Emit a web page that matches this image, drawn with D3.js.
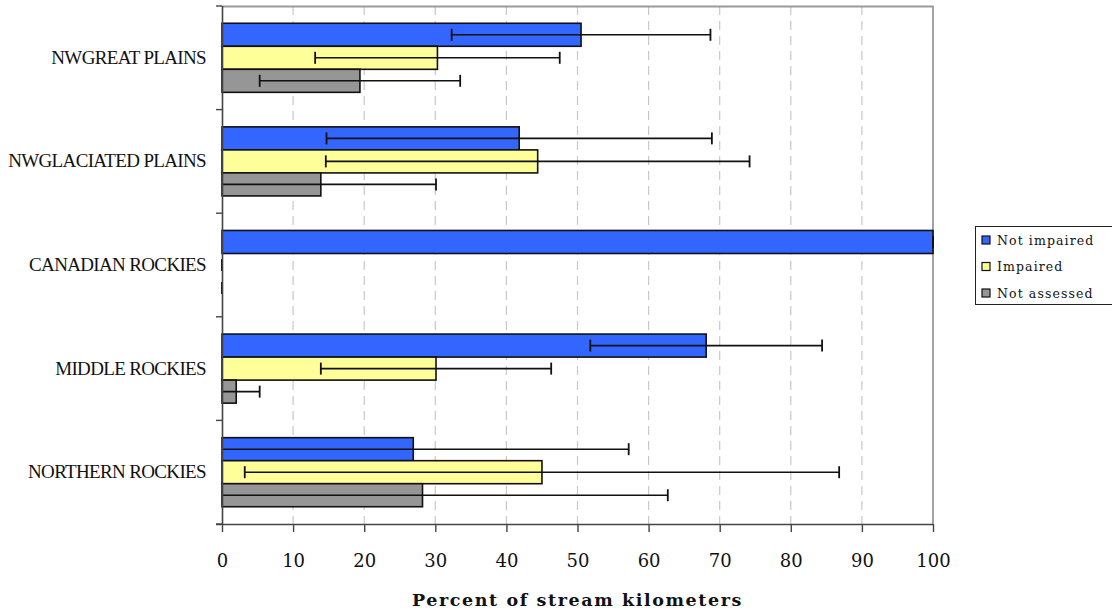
<!DOCTYPE html>
<html>
<head>
<meta charset="utf-8">
<script src="https://cdn.jsdelivr.net/npm/d3@7"></script>
<style>
  html, body { margin: 0; padding: 0; background: #fff; }
  svg { display: block; }
</style>
</head>
<body>
<svg id="chart" width="1112" height="615"></svg>
<script>
// Ecoregions, top to bottom
const regions = ["NWGREAT PLAINS", "NWGLACIATED PLAINS", "CANADIAN ROCKIES", "MIDDLE ROCKIES", "NORTHERN ROCKIES"];
const seriesNames = ["Not impaired", "Impaired", "Not assessed"];

// Percent of stream kilometers per condition class
const notImpaired = [50.5, 41.8, 100, 68.1, 26.9];
const impaired = [30.3, 44.4, 0, 30.1, 45.0];
const notAssessed = [19.4, 13.9, 0, 2.0, 28.2];

// Error bar half-widths (percent)
const notImpairedErr = [18.2, 27.1, 0, 16.3, 30.3];
const impairedErr = [17.2, 29.8, 0, 16.2, 41.8];
const notAssessedErr = [14.1, 16.2, 0, 3.3, 34.5];

const xTicks = [0, 10, 20, 30, 40, 50, 60, 70, 80, 90, 100];
const xTitle = "Percent of stream kilometers";

const seriesColors = ["#3366ff", "#ffff99", "#969696"];
const seriesValues = [notImpaired, impaired, notAssessed];
const seriesErrors = [notImpairedErr, impairedErr, notAssessedErr];

const W = 1112, H = 615;
const margin = { top: 6, right: 179, bottom: 91, left: 222 };
const plotW = W - margin.left - margin.right;
const plotH = H - margin.top - margin.bottom;

const svg = d3.select("#chart");
const g = svg.append("g").attr("transform", `translate(${margin.left},${margin.top})`);

const x = d3.scaleLinear().domain([0, 100]).range([0, plotW]);
const y = d3.scaleBand().domain(regions).range([0, plotH]).padding(0);
const ySub = d3.scaleBand().domain(seriesNames).range([0, y.bandwidth()]).paddingInner(0).paddingOuter(0.75);

// Dashed vertical gridlines
g.append("g")
  .selectAll("line")
  .data(xTicks.filter(t => t > 0 && t < 100))
  .join("line")
  .attr("x1", d => x(d)).attr("x2", d => x(d))
  .attr("y1", 0).attr("y2", plotH)
  .attr("stroke", "#c8c8c8")
  .attr("stroke-width", 1.2)
  .attr("stroke-dasharray", "9,6");

// Plot frame (top and right edges)
g.append("path")
  .attr("d", `M0,0.5H${plotW}V${plotH}`)
  .attr("fill", "none")
  .attr("stroke", "#9a9a9a")
  .attr("stroke-width", 1.8);

// Rows of records: one per region and series
const rows = [];
regions.forEach((r, i) => {
  seriesNames.forEach((s, j) => {
    rows.push({ region: r, series: s, value: seriesValues[j][i], err: seriesErrors[j][i], color: seriesColors[j] });
  });
});

const groups = g.append("g").selectAll("g")
  .data(rows)
  .join("g")
  .attr("transform", d => `translate(0,${y(d.region) + ySub(d.series)})`);

// Bars
groups.filter(d => d.value > 0)
  .append("rect")
  .attr("x", 0)
  .attr("y", 0)
  .attr("width", d => x(d.value))
  .attr("height", ySub.bandwidth())
  .attr("fill", d => d.color)
  .attr("stroke", "#111")
  .attr("stroke-width", 1.6);

// Error bars
const capH = 12;
groups.each(function (d) {
  const sel = d3.select(this);
  const cy = ySub.bandwidth() / 2;
  const lo = d.value - d.err, hi = d.value + d.err;
  sel.append("line")
    .attr("x1", x(Math.max(0, lo))).attr("x2", x(hi))
    .attr("y1", cy).attr("y2", cy)
    .attr("stroke", "#111").attr("stroke-width", 1.6);
  const caps = [hi];
  if (lo >= 0) caps.push(lo);
  caps.forEach(c => {
    sel.append("line")
      .attr("x1", x(c)).attr("x2", x(c))
      .attr("y1", cy - capH / 2).attr("y2", cy + capH / 2)
      .attr("stroke", "#111").attr("stroke-width", 1.8);
  });
});

// Bottom axis
const xAxis = g.append("g")
  .attr("transform", `translate(0,${plotH})`)
  .call(d3.axisBottom(x).tickValues(xTicks).tickSize(8).tickPadding(22).tickSizeOuter(0));
xAxis.select(".domain").attr("stroke", "#444").attr("stroke-width", 1.6).attr("d", `M-6,0.5H${plotW}`);
xAxis.selectAll(".tick line").attr("stroke", "#444").attr("stroke-width", 1.4);
xAxis.selectAll(".tick text")
  .attr("font-family", "'DejaVu Serif', serif")
  .attr("font-size", 18)
  .attr("fill", "#111");

// Left axis with category labels
const yAxis = g.append("g")
  .call(d3.axisLeft(y).tickSize(0).tickPadding(16));
yAxis.select(".domain").attr("stroke", "#444").attr("stroke-width", 1.6).attr("d", `M0.5,0V${plotH}`);
yAxis.selectAll(".tick text")
  .attr("font-family", "'Liberation Serif', 'Times New Roman', serif")
  .attr("font-size", 19)
  .attr("letter-spacing", "-0.65px")
  .attr("fill", "#111");

// Boundary ticks between regions
const bounds = regions.map(r => y(r)).concat([plotH]);
g.append("g").selectAll("line")
  .data(bounds)
  .join("line")
  .attr("x1", -6).attr("x2", 0)
  .attr("y1", d => d).attr("y2", d => d)
  .attr("stroke", "#444").attr("stroke-width", 1.4);

// Axis title
svg.append("text")
  .attr("x", margin.left + plotW / 2)
  .attr("y", 606)
  .attr("text-anchor", "middle")
  .attr("font-family", "'DejaVu Serif', serif")
  .attr("font-weight", "bold")
  .attr("font-size", 17.5)
  .attr("letter-spacing", "1.6px")
  .attr("fill", "#111")
  .text(xTitle);

// Legend
const legend = svg.append("g").attr("transform", "translate(975,226)");
legend.append("rect")
  .attr("x", 0.5).attr("y", 0.5)
  .attr("width", 145).attr("height", 78)
  .attr("fill", "#fff")
  .attr("stroke", "#222")
  .attr("stroke-width", 1);
const items = legend.selectAll("g.item")
  .data(seriesNames)
  .join("g")
  .attr("class", "item")
  .attr("transform", (d, i) => `translate(0,${14 + i * 26.5})`);
items.append("rect")
  .attr("x", 7).attr("y", -4)
  .attr("width", 8).attr("height", 8)
  .attr("fill", (d, i) => seriesColors[i])
  .attr("stroke", "#111")
  .attr("stroke-width", 1.2);
items.append("text")
  .attr("x", 22)
  .attr("y", 4.5)
  .attr("font-family", "'DejaVu Serif', serif")
  .attr("font-size", 12.5)
  .attr("letter-spacing", "1.1px")
  .attr("fill", "#111")
  .text(d => d);
</script>
</body>
</html>
